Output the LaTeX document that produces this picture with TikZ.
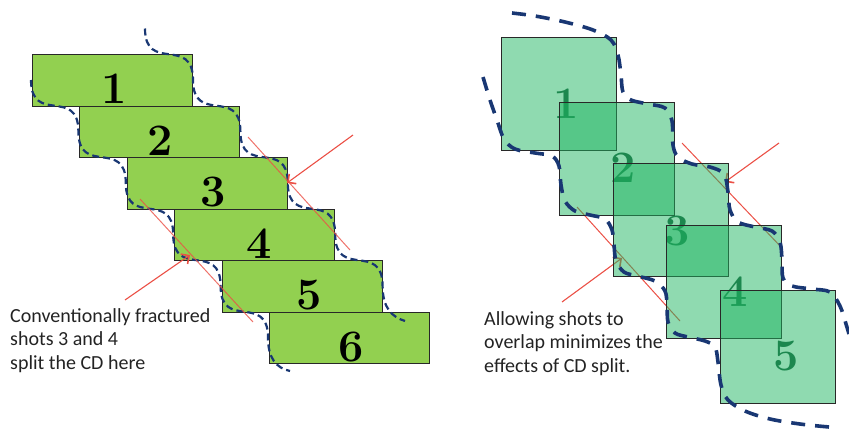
\documentclass[tikz,border=0pt]{standalone}
\usepackage{fontspec}
\newfontfamily\calib{Carlito}
\usetikzlibrary{arrows.meta}
\definecolor{lgreen}{RGB}{146,208,80}
\definecolor{sqgreen}{RGB}{31,181,97}
\definecolor{numgreen}{RGB}{0,115,55}
\definecolor{cdblue}{RGB}{25,55,115}
\definecolor{redl}{RGB}{235,80,70}
\definecolor{edgec}{RGB}{40,40,40}
\definecolor{txtc}{RGB}{35,35,35}
\begin{document}
\begin{tikzpicture}[x=1pt,y=-1pt,
  lrect/.style={draw=edgec, line width=0.9pt, fill=lgreen, minimum width=160pt, minimum height=51.5pt, inner sep=0pt, anchor=north west},
  rsq/.style={draw=edgec, line width=0.9pt, fill=sqgreen, fill opacity=0.5, minimum width=115pt, minimum height=113pt, inner sep=0pt, anchor=north west},
  lnum/.style={font=\fontsize{45}{45}\selectfont\bfseries, text=black, inner sep=0pt, anchor=base},
  rnum/.style={font=\fontsize{45}{45}\selectfont\bfseries, text=numgreen, text opacity=0.8, inner sep=0pt, anchor=base},
  ldash/.style={draw=cdblue, line width=2.2pt, dash pattern=on 7pt off 4pt},
  rdash/.style={draw=cdblue, line width=3.6pt, dash pattern=on 14pt off 10pt},
  redline/.style={draw=redl, line width=1pt},
  redarrow/.style={draw=redl, line width=1.1pt, -{Straight Barb[length=6pt,width=12pt,line width=1.6pt]}},
  txt/.style={font=\calib\fontsize{20}{23.5}\selectfont, text=txtc, inner sep=0pt, anchor=base west}]
\useasboundingbox (0,0) rectangle (849,432);

% ---------------- left panel ----------------
\node[lrect] (L1) at (32,54) {};
\node[lrect] (L2) at (79.4,105.5) {};
\node[lrect] (L3) at (126.8,157) {};
\node[lrect] (L4) at (174.2,208.5) {};
\node[lrect] (L5) at (221.6,260) {};
\node[lrect] (L6) at (269,311.5) {};
\node[lnum] (n1) at (114,103.5) {1};
\node[lnum] (n2) at (160,155) {2};
\node[lnum] (n3) at (213,206.5) {3};
\node[lnum] (n4) at (259,258) {4};
\node[lnum] (n5) at (309,309.5) {5};
\node[lnum] (n6) at (351,361) {6};

% dashed contour, right side
\draw[ldash] (145,28.5)
  .. controls (145,73.5) and (193,35) .. (193,80)
  .. controls (193,125) and (240.4,86.5) .. (240.4,131.5)
  .. controls (240.4,176.5) and (287.8,138) .. (287.8,183)
  .. controls (287.8,228) and (335.2,189.5) .. (335.2,234.5)
  .. controls (335.2,279.5) and (382.6,241) .. (382.6,286)
  .. controls (382.6,308) and (392,317) .. (405,321);
% dashed contour, left side
\draw[ldash] (31,80)
  .. controls (31,125) and (78.4,86.5) .. (78.4,131.5)
  .. controls (78.4,176.5) and (125.8,138) .. (125.8,183)
  .. controls (125.8,228) and (173.2,189.5) .. (173.2,234.5)
  .. controls (173.2,279.5) and (220.6,241) .. (220.6,286)
  .. controls (220.6,331) and (268,292.5) .. (268,337.5)
  .. controls (268,358) and (276,368) .. (290,371);

% red lines and arrows
\coordinate (la1) at (248,137);
\coordinate (la2) at (350,250);
\coordinate (lb1) at (140,199);
\coordinate (lb2) at (253,322);
\coordinate (aA1) at (353,135);
\coordinate (aA2) at (287,183);
\coordinate (aB1) at (125,300);
\coordinate (aB2) at (190,255);
\draw[redline, draw opacity=0.8] (la1) -- (la2);
\draw[redline, draw opacity=0.8] (lb1) -- (lb2);
\draw[redarrow] (aA1) -- (aA2);
\draw[redarrow] (aB1) -- (aB2);

\node[txt] (t1) at (10,322) {Conventionally fractured};
\node[txt] (t2) at (10,345.5) {shots 3 and 4};
\node[txt] (t3) at (10,369) {split the CD here};

% ---------------- right panel ----------------
\coordinate (ra1) at (682,143);
\coordinate (ra2) at (782,248);
\coordinate (rb1) at (577,207);
\coordinate (rb2) at (680,321);
\coordinate (rA1) at (779,143);
\coordinate (rA2) at (725,182);
\coordinate (rB1) at (562,302);
\coordinate (rB2) at (622,258);
\draw[redline] (ra1) -- (ra2);
\draw[redline] (rb1) -- (rb2);
\draw[redarrow] (rA1) -- (rA2);
\draw[redarrow] (rB1) -- (rB2);

\node[rsq] (S1) at (501,37) {};
\node[rnum] (m1) at (566.5,118) {1};
\node[rsq] (S2) at (559,102) {};
\node[rnum] (m2) at (623.5,182) {2};
\node[rsq] (S3) at (613,163) {};
\node[rnum] (m3) at (677.5,245) {3};
\node[rsq] (S4) at (666,225) {};
\node[rnum] (m4) at (735,306) {4};
\node[rsq] (S5) at (720,290) {};
\node[rnum] (m5) at (786.5,370) {5};

\draw[rdash] plot[smooth, tension=0.55] coordinates {
 (512,13) (535,16) (565,22) (593,30) (611,40) (618,55) (621,75) (623,92)
 (631,100) (648,104) (665,108) (672,121) (673,145) (678,157) (692,164)
 (710,167) (724,174) (728,192) (730,210) (738,222) (755,227) (772,231)
 (780,242) (782,260) (783,278) (792,286) (812,289) (830,292) (840,306)
 (846,324) (849,334)};
\draw[rdash] plot[smooth, tension=0.55] coordinates {
 (829,427) (800,424) (770,419) (745,411) (728,400) (721,385) (718,362)
 (715,347) (705,341) (688,337) (675,333) (668,322) (667,305) (665,291)
 (655,281) (637,276) (624,272) (616,261) (614,245) (612,230) (605,219)
 (590,215) (575,211) (565,201) (561,185) (559,166) (552,156) (535,153)
 (515,149) (504,139) (497,120) (490,100) (483,77)};

\node[txt] (u1) at (484,325) {Allowing shots to};
\node[txt] (u2) at (484,348.5) {overlap minimizes the};
\node[txt] (u3) at (484,372) {effects of CD split.};
\end{tikzpicture}
\end{document}
